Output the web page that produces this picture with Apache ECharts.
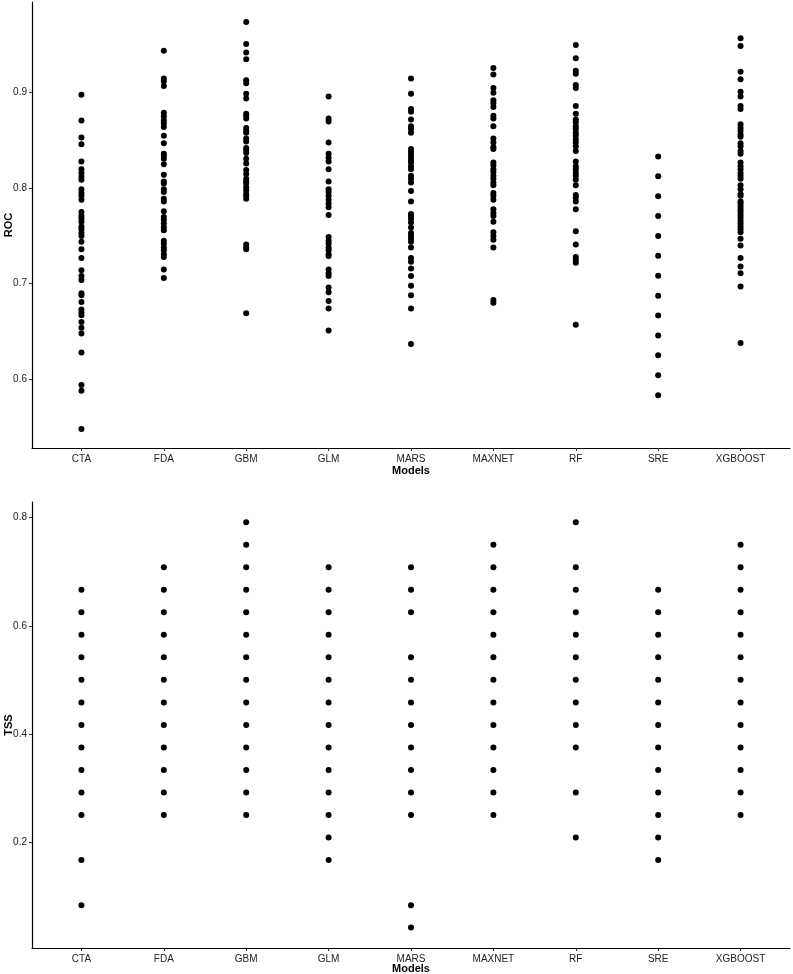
<!DOCTYPE html>
<html>
<head>
<meta charset="utf-8">
<script src="https://cdn.jsdelivr.net/npm/echarts@6/dist/echarts.min.js"></script>
<style>
  html, body { margin: 0; padding: 0; background: #fff; }
  #main { width: 793px; height: 974px; }
</style>
</head>
<body>
<div id="main"></div>
<script>
var models = ["CTA", "FDA", "GBM", "GLM", "MARS", "MAXNET", "RF", "SRE", "XGBOOST"];

// ROC per model
var roc_cta = [0.898, 0.871, 0.853, 0.846, 0.828, 0.820, 0.816, 0.812, 0.809, 0.799, 0.795, 0.792, 0.788,
  0.775, 0.771, 0.768, 0.765, 0.760, 0.757, 0.753, 0.750, 0.744, 0.736, 0.727, 0.714, 0.708, 0.704,
  0.690, 0.688, 0.681, 0.673, 0.670, 0.667, 0.660, 0.654, 0.648, 0.628, 0.594, 0.588, 0.548];
var roc_fda = [0.944, 0.915, 0.912, 0.907, 0.879, 0.875, 0.871, 0.868, 0.864, 0.855, 0.847, 0.836, 0.834,
  0.831, 0.825, 0.814, 0.807, 0.805, 0.799, 0.796, 0.789, 0.786, 0.776, 0.770, 0.767, 0.763, 0.759,
  0.756, 0.745, 0.742, 0.738, 0.735, 0.731, 0.728, 0.715, 0.706];
var roc_gbm = [0.974, 0.951, 0.942, 0.935, 0.913, 0.910, 0.899, 0.894, 0.878, 0.876, 0.873, 0.863, 0.860,
  0.858, 0.852, 0.849, 0.842, 0.840, 0.837, 0.831, 0.826, 0.819, 0.815, 0.810, 0.807, 0.805, 0.801,
  0.798, 0.794, 0.792, 0.789, 0.741, 0.738, 0.736, 0.669];
var roc_glm = [0.896, 0.873, 0.870, 0.848, 0.836, 0.832, 0.828, 0.820, 0.807, 0.799, 0.796, 0.792, 0.788,
  0.784, 0.780, 0.772, 0.749, 0.745, 0.742, 0.738, 0.735, 0.731, 0.729, 0.715, 0.711, 0.708, 0.696,
  0.691, 0.682, 0.674, 0.651];
var roc_mars = [0.915, 0.899, 0.883, 0.880, 0.872, 0.865, 0.862, 0.858, 0.841, 0.838, 0.835, 0.832, 0.829,
  0.827, 0.823, 0.820, 0.813, 0.810, 0.806, 0.797, 0.786, 0.773, 0.771, 0.768, 0.764, 0.759, 0.753,
  0.750, 0.747, 0.744, 0.738, 0.727, 0.723, 0.716, 0.708, 0.698, 0.688, 0.674, 0.637];
var roc_maxnet = [0.926, 0.919, 0.905, 0.900, 0.892, 0.889, 0.885, 0.876, 0.873, 0.865, 0.852, 0.848, 0.843,
  0.841, 0.827, 0.824, 0.820, 0.817, 0.813, 0.810, 0.806, 0.803, 0.795, 0.792, 0.788, 0.778, 0.774,
  0.771, 0.765, 0.754, 0.750, 0.746, 0.738, 0.683, 0.680];
var roc_rf = [0.950, 0.936, 0.923, 0.920, 0.908, 0.905, 0.886, 0.878, 0.872, 0.869, 0.865, 0.862, 0.858,
  0.855, 0.851, 0.848, 0.844, 0.839, 0.828, 0.823, 0.820, 0.816, 0.813, 0.809, 0.803, 0.793, 0.790,
  0.786, 0.778, 0.755, 0.741, 0.728, 0.725, 0.722, 0.657];
var roc_sre = [0.8333, 0.8125, 0.7917, 0.7708, 0.75, 0.7292, 0.7083, 0.6875, 0.6667, 0.6458, 0.625, 0.6042, 0.5833];
var roc_xgb = [0.957, 0.949, 0.922, 0.914, 0.901, 0.896, 0.886, 0.883, 0.867, 0.863, 0.860, 0.856, 0.854,
  0.847, 0.844, 0.839, 0.836, 0.827, 0.823, 0.820, 0.816, 0.813, 0.810, 0.803, 0.799, 0.794, 0.792,
  0.786, 0.784, 0.781, 0.778, 0.775, 0.772, 0.769, 0.766, 0.763, 0.760, 0.757, 0.754, 0.747, 0.740,
  0.727, 0.718, 0.711, 0.697, 0.638];

// TSS per model
var tss_cta = [0.0833, 0.1667, 0.25, 0.2917, 0.3333, 0.375, 0.4167, 0.4583, 0.5, 0.5417, 0.5833, 0.625, 0.6667];
var tss_fda = [0.25, 0.2917, 0.3333, 0.375, 0.4167, 0.4583, 0.5, 0.5417, 0.5833, 0.625, 0.6667, 0.7083];
var tss_gbm = [0.25, 0.2917, 0.3333, 0.375, 0.4167, 0.4583, 0.5, 0.5417, 0.5833, 0.625, 0.6667, 0.7083, 0.75, 0.7917];
var tss_glm = [0.1667, 0.2083, 0.25, 0.2917, 0.3333, 0.375, 0.4167, 0.4583, 0.5, 0.5417, 0.5833, 0.625, 0.6667, 0.7083];
var tss_mars = [0.0417, 0.0833, 0.25, 0.2917, 0.3333, 0.375, 0.4167, 0.4583, 0.5, 0.5417, 0.625, 0.6667, 0.7083];
var tss_maxnet = [0.25, 0.2917, 0.3333, 0.375, 0.4167, 0.4583, 0.5, 0.5417, 0.5833, 0.625, 0.6667, 0.7083, 0.75];
var tss_rf = [0.2083, 0.2917, 0.375, 0.4167, 0.4583, 0.5, 0.5417, 0.5833, 0.625, 0.6667, 0.7083, 0.7917];
var tss_sre = [0.1667, 0.2083, 0.25, 0.2917, 0.3333, 0.375, 0.4167, 0.4583, 0.5, 0.5417, 0.5833, 0.625, 0.6667];
var tss_xgb = [0.25, 0.2917, 0.3333, 0.375, 0.4167, 0.4583, 0.5, 0.5417, 0.5833, 0.625, 0.6667, 0.7083, 0.75];

var roc_ticks = [0.6, 0.7, 0.8, 0.9];
var tss_ticks = [0.2, 0.4, 0.6, 0.8];

var roc_all = [roc_cta, roc_fda, roc_gbm, roc_glm, roc_mars, roc_maxnet, roc_rf, roc_sre, roc_xgb];
var tss_all = [tss_cta, tss_fda, tss_gbm, tss_glm, tss_mars, tss_maxnet, tss_rf, tss_sre, tss_xgb];

function toPoints(groups) {
  var pts = [];
  for (var i = 0; i < groups.length; i++) {
    for (var k = 0; k < groups[i].length; k++) {
      pts.push([i, groups[i][k]]);
    }
  }
  return pts;
}

var font = "'Liberation Sans', Arial, sans-serif";
var idx = [0, 1, 2, 3, 4, 5, 6, 7, 8];

function xAxisFor(gi, gap) {
  return {
    type: "value",
    gridIndex: gi,
    min: -0.6,
    max: 8.6,
    name: "Models",
    nameLocation: "middle",
    nameGap: gap,
    nameMoveOverlap: false,
    nameTextStyle: { color: "#000", fontFamily: font, fontSize: 11, fontWeight: "bold" },
    splitLine: { show: false },
    axisLine: { onZero: false, lineStyle: { color: "#000", width: 1.2 } },
    axisTick: { show: true, length: 3, customValues: idx, lineStyle: { color: "#333" } },
    axisLabel: {
      customValues: idx,
      margin: 6,
      color: "#222",
      fontFamily: font,
      fontSize: 10,
      formatter: function (v) { return models[Math.round(v)]; },
    },
  };
}

function yAxisFor(gi, name, lo, hi, ticks) {
  return {
    type: "value",
    gridIndex: gi,
    min: lo,
    max: hi,
    name: name,
    nameLocation: "middle",
    nameGap: 18,
    nameMoveOverlap: false,
    nameTextStyle: { color: "#000", fontFamily: font, fontSize: 11, fontWeight: "bold" },
    splitLine: { show: false },
    axisLine: { show: true, onZero: false, lineStyle: { color: "#000", width: 1.2 } },
    axisTick: { show: true, length: 3, customValues: ticks, lineStyle: { color: "#333" } },
    axisLabel: {
      customValues: ticks,
      margin: 5,
      color: "#222",
      fontFamily: font,
      fontSize: 10,
      formatter: function (v) { return String(Math.round(v * 10) / 10); },
    },
  };
}

var myChart = echarts.init(document.getElementById("main"), null, { renderer: "canvas" });
myChart.setOption({
  backgroundColor: "#fff",
  animation: false,
  grid: [
    { left: 32, top: 2, right: 3, height: 446, outerBoundsMode: "none", containLabel: false },
    { left: 32, top: 502, right: 3, height: 446, outerBoundsMode: "none", containLabel: false },
  ],
  xAxis: [xAxisFor(0, 17), xAxisFor(1, 15)],
  yAxis: [
    yAxisFor(0, "ROC", 0.528, 0.995, roc_ticks),
    yAxisFor(1, "TSS", 0.004, 0.829, tss_ticks),
  ],
  series: [
    {
      type: "scatter",
      xAxisIndex: 0,
      yAxisIndex: 0,
      symbolSize: 6,
      itemStyle: { color: "#000", opacity: 1 },
      data: toPoints(roc_all),
    },
    {
      type: "scatter",
      xAxisIndex: 1,
      yAxisIndex: 1,
      symbolSize: 6,
      itemStyle: { color: "#000", opacity: 1 },
      data: toPoints(tss_all),
    },
  ],
});
</script>
</body>
</html>
